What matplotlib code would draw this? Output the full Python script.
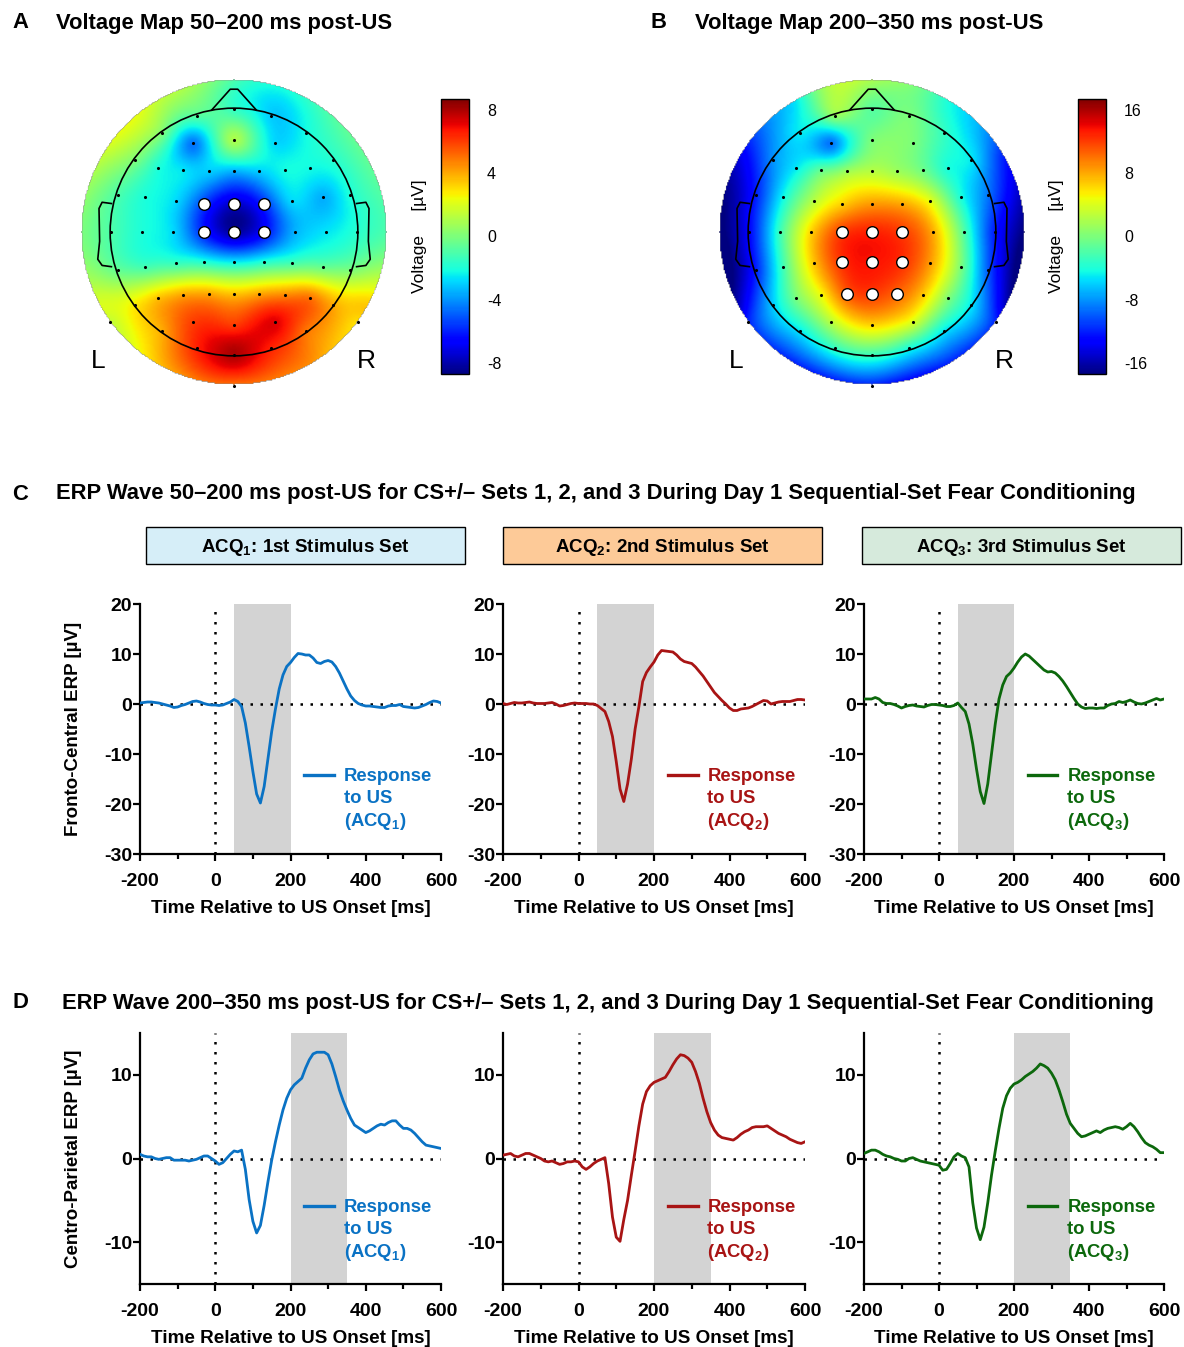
import numpy as np
import matplotlib.pyplot as plt
from matplotlib.patches import Rectangle, Circle
from matplotlib.lines import Line2D

plt.rcParams['font.family'] = ['Liberation Sans', 'DejaVu Sans']
plt.rcParams['mathtext.default'] = 'regular'
plt.rcParams['axes.unicode_minus'] = False

W, H = 1184, 1347
fig = plt.figure(figsize=(W / 100, H / 100), dpi=100)


def fx(px):
    return px / W


def fy(py):
    return 1 - py / H


# ---------------- topographic data ----------------
chan_names = ['Fpz', 'Fp1', 'Fp2',
              'AF7', 'AF3', 'AFz', 'AF4', 'AF8',
              'F7', 'F5', 'F3', 'F1', 'Fz', 'F2', 'F4', 'F6', 'F8',
              'FT7', 'FC5', 'FC3', 'FC1', 'FCz', 'FC2', 'FC4', 'FC6', 'FT8',
              'T7', 'C5', 'C3', 'C1', 'Cz', 'C2', 'C4', 'C6', 'T8',
              'TP7', 'CP5', 'CP3', 'CP1', 'CPz', 'CP2', 'CP4', 'CP6', 'TP8',
              'P7', 'P5', 'P3', 'P1', 'Pz', 'P2', 'P4', 'P6', 'P8',
              'P9', 'P10',
              'PO7', 'PO3', 'POz', 'PO4', 'PO8',
              'O1', 'Oz', 'O2', 'Iz']
chan_x = [0, -0.30, 0.30,
          -0.58, -0.33, 0, 0.33, 0.58,
          -0.80, -0.61, -0.41, -0.20, 0, 0.20, 0.41, 0.61, 0.80,
          -0.94, -0.72, -0.47, -0.24, 0, 0.24, 0.47, 0.72, 0.94,
          -0.99, -0.74, -0.49, -0.245, 0, 0.245, 0.49, 0.74, 0.99,
          -0.94, -0.72, -0.47, -0.24, 0, 0.24, 0.47, 0.72, 0.94,
          -0.80, -0.61, -0.41, -0.20, 0, 0.20, 0.41, 0.61, 0.80,
          -1.00, 1.00,
          -0.58, -0.33, 0, 0.33, 0.58,
          -0.30, 0, 0.30, 0]
chan_y = [0.99, 0.94, 0.94,
          0.80, 0.72, 0.745, 0.72, 0.80,
          0.58, 0.52, 0.50, 0.49, 0.49, 0.49, 0.50, 0.52, 0.58,
          0.30, 0.28, 0.25, 0.23, 0.23, 0.23, 0.25, 0.28, 0.30,
          0, 0, 0, 0, 0, 0, 0, 0, 0,
          -0.31, -0.28, -0.25, -0.245, -0.245, -0.245, -0.25, -0.28, -0.31,
          -0.59, -0.53, -0.505, -0.50, -0.50, -0.50, -0.505, -0.53, -0.59,
          -0.73, -0.73,
          -0.80, -0.73, -0.75, -0.73, -0.80,
          -0.94, -0.99, -0.94, -1.24]
volt_a = [-1.5, -0.8, -3.0,
          0.0, -4.5, 1.0, -2.8, -2.2,
          0.0, -2.0, -2.6, -3.0, -3.5, -3.0, -2.2, -2.2, -1.8,
          -1.0, -2.0, -2.8, -5.5, -7.5, -5.8, -2.8, -3.5, -2.0,
          -1.0, -2.0, -2.8, -6.0, -8.2, -6.5, -3.5, -2.6, -1.8,
          -0.5, -1.2, -1.5, -1.8, -2.4, -1.8, -1.2, -0.5, 0.0,
          2.8, 3.5, 4.0, 4.0, 3.5, 4.0, 4.5, 5.0, 4.0,
          1.5, 3.0,
          4.0, 6.0, 6.0, 7.2, 5.0,
          6.5, 8.0, 6.5, 5.0]
volt_b = [-1.5, 1.0, 0.0,
          -5.0, -9.0, 0.0, 0.0, -3.0,
          -8.0, -5.0, -1.0, 1.5, 2.5, 1.5, -0.5, -4.0, -5.0,
          -12.0, -4.5, 2.5, 6.5, 8.5, 8.0, 4.5, -4.0, -9.0,
          -13.0, -2.5, 6.5, 12.0, 13.0, 12.0, 8.0, -1.5, -12.0,
          -12.0, -2.5, 7.0, 12.5, 13.5, 12.5, 8.5, 0.0, -10.0,
          -6.0, 0.0, 5.0, 11.0, 12.0, 10.5, 7.0, 0.5, -5.0,
          -12.0, -12.0,
          -5.0, 2.5, 6.5, 4.0, -5.0,
          -3.0, -2.5, -4.0, -12.0]
# colours read along the outer edge of each map (degrees, 0 = right, 90 = nose)
rim_angle = [0, 30, 60, 90, 120, 150, 180, 210, 240, 300, 330]
rim_a = [-1.0, -0.5, -1.5, -1.0, 1.5, 1.5, 0.0, 2.0, 3.5, 4.5, 3.5]
rim_b = [-17.5, -12.0, -4.0, 2.0, -5.0, -14.0, -18.0, -15.0, -12.0, -12.0, -15.0]
roi_a = ['FC1', 'FCz', 'FC2', 'C1', 'Cz', 'C2']
roi_b = ['C1', 'Cz', 'C2', 'CP1', 'CPz', 'CP2', 'P1', 'Pz', 'P2']

# ---------------- ERP data (10 ms steps, -200..600 ms) ----------------
times = np.arange(-200, 601, 10)
fc_acq1 = [0.2, 0.3, 0.4, 0.4, 0.3, 0.2, 0.0, -0.2, -0.4, -0.7,
           -0.6, -0.3, -0.1, 0.2, 0.5, 0.6, 0.4, 0.1, -0.1, -0.2,
           -0.2, -0.3, -0.2, 0.1, 0.4, 0.9, 0.5, -0.5, -3.8, -8.5,
           -13.5, -18.0, -19.8, -16.5, -11.0, -5.5, -1.0, 3.0, 5.8, 7.5,
           8.3, 9.3, 10.1, 10.0, 9.8, 9.8, 9.2, 8.3, 8.1, 8.5,
           8.7, 8.4, 7.5, 6.2, 4.6, 3.0, 1.6, 0.7, 0.1, -0.2,
           -0.4, -0.4, -0.5, -0.6, -0.7, -0.7, -0.4, -0.3, -0.3, -0.1,
           -0.5, -0.6, -0.7, -0.8, -0.7, -0.4, -0.1, 0.3, 0.6, 0.5,
           0.2]
fc_acq2 = [0.1, -0.1, 0.1, 0.3, 0.2, 0.2, 0.3, 0.4, 0.2, 0.1,
           0.1, 0.1, 0.2, 0.3, 0.0, -0.4, -0.3, -0.1, 0.1, 0.2,
           0.1, 0.1, 0.1, 0.0, 0.0, -0.3, -0.9, -1.5, -3.5, -6.5,
           -11.5, -17.0, -19.5, -16.0, -11.0, -5.0, -0.5, 4.5, 6.3, 7.4,
           8.4, 9.8, 10.7, 10.6, 10.5, 10.4, 9.8, 9.0, 8.5, 8.3,
           8.1, 7.4, 6.5, 5.6, 4.5, 3.4, 2.3, 1.5, 0.7, 0.0,
           -0.8, -1.3, -1.3, -1.0, -0.9, -0.8, -0.5, -0.1, 0.3, 0.7,
           0.6, 0.0, 0.2, 0.4, 0.5, 0.5, 0.5, 0.7, 0.9, 0.9,
           0.8]
fc_acq3 = [1.0, 1.0, 1.0, 1.3, 1.0, 0.3, 0.1, 0.1, -0.1, -0.4,
           -0.8, -0.5, -0.3, -0.2, -0.4, -0.5, -0.6, -0.3, -0.1, -0.1,
           -0.2, -0.3, -0.5, -0.5, -0.3, 0.2, -0.7, -1.5, -4.0, -8.0,
           -13.0, -17.5, -19.9, -16.0, -10.0, -4.0, 1.0, 3.8, 5.5, 6.2,
           7.2, 8.4, 9.4, 10.0, 9.6, 8.9, 8.2, 7.5, 6.8, 6.4,
           6.5, 6.2, 5.5, 4.6, 3.5, 2.3, 1.1, 0.0, -0.6, -0.9,
           -0.8, -0.8, -0.9, -0.8, -0.8, -0.3, 0.0, 0.1, 0.5, 0.3,
           0.5, 0.8, 0.4, 0.1, 0.0, 0.2, 0.5, 0.8, 1.1, 0.8,
           1.0]
cp_acq1 = [0.5, 0.3, 0.2, 0.2, 0.0, -0.1, 0.0, 0.1, 0.1, -0.2,
           -0.2, -0.2, -0.2, -0.3, -0.2, -0.1, 0.1, 0.3, 0.3, 0.0,
           -0.3, -0.7, -0.5, 0.0, 0.5, 0.9, 0.8, 1.0, -1.3, -4.9,
           -7.5, -8.9, -8.0, -5.6, -2.8, -0.2, 2.0, 4.0, 5.8, 7.2,
           8.2, 8.8, 9.2, 9.6, 10.8, 11.8, 12.5, 12.7, 12.7, 12.7,
           12.4, 11.3, 9.8, 8.2, 6.9, 5.8, 4.8, 4.0, 3.7, 3.4,
           3.1, 3.3, 3.6, 3.9, 4.1, 4.0, 4.3, 4.5, 4.5, 4.0,
           3.6, 3.6, 3.4, 3.0, 2.5, 2.0, 1.6, 1.5, 1.4, 1.3,
           1.2]
cp_acq2 = [0.4, 0.5, 0.6, 0.3, 0.2, 0.4, 0.6, 0.6, 0.4, 0.2,
           0.0, -0.3, -0.4, -0.3, -0.5, -0.7, -0.6, -0.4, -0.4, -0.3,
           -0.4, -1.0, -1.3, -1.0, -0.6, -0.3, -0.1, 0.1, -3.0, -7.0,
           -9.4, -9.9, -7.3, -5.0, -2.0, 0.9, 3.9, 6.5, 8.0, 8.7,
           9.1, 9.3, 9.5, 9.7, 10.4, 11.2, 11.9, 12.4, 12.3, 12.0,
           11.5, 10.4, 9.0, 7.2, 5.6, 4.3, 3.4, 2.8, 2.5, 2.4,
           2.3, 2.2, 2.5, 2.9, 3.2, 3.4, 3.7, 3.8, 3.8, 3.8,
           3.9, 3.6, 3.3, 3.0, 2.8, 2.6, 2.3, 2.1, 1.9, 1.8,
           2.0]
cp_acq3 = [0.6, 0.8, 1.0, 1.0, 0.8, 0.5, 0.3, 0.2, 0.0, -0.1,
           -0.3, -0.3, 0.0, 0.1, -0.1, -0.3, -0.4, -0.5, -0.6, -0.7,
           -0.8, -1.4, -1.3, -0.6, 0.2, 0.6, 0.3, 0.1, -1.0, -5.3,
           -8.3, -9.7, -8.2, -5.3, -2.0, 0.9, 3.6, 6.0, 7.5, 8.4,
           8.9, 9.1, 9.4, 9.8, 10.1, 10.4, 10.8, 11.3, 11.1, 10.8,
           10.2, 9.4, 8.2, 6.8, 5.3, 4.2, 3.6, 3.0, 2.6, 2.7,
           2.9, 3.1, 3.3, 3.1, 3.4, 3.6, 3.7, 3.8, 3.7, 3.5,
           3.8, 4.2, 3.8, 3.2, 2.5, 1.9, 1.6, 1.4, 1.1, 0.7,
           0.7]

cond_labels = ['ACQ$_1$: 1st Stimulus Set', 'ACQ$_2$: 2nd Stimulus Set', 'ACQ$_3$: 3rd Stimulus Set']
legend_rest = ['to US\n(ACQ$_1$)', 'to US\n(ACQ$_2$)', 'to US\n(ACQ$_3$)']
cond_colors = ['#0a72c4', '#a81414', '#0c680c']
header_colors = ['#d6eef8', '#fdca98', '#d6eadc']


# ---------------- topomaps ----------------
def v4_interp(xe, ye, ve, xg, yg):
    d = np.hypot(xe[:, None] - xe[None, :], ye[:, None] - ye[None, :])
    dd = np.where(d > 0, d, 1.0)
    G = np.where(d > 0, d ** 2 * (np.log(dd) - 1), 0.0)
    w = np.linalg.solve(G, ve)
    dg = np.hypot(xg.ravel()[:, None] - xe[None, :], yg.ravel()[:, None] - ye[None, :])
    ddg = np.where(dg > 0, dg, 1.0)
    Gg = np.where(dg > 0, dg ** 2 * (np.log(ddg) - 1), 0.0)
    return (Gg @ w).reshape(xg.shape)


def topomap(cx, cy, values, rim, roi, vlim, ticks, cbar_left):
    R = 1.235
    ax = fig.add_axes([fx(cx - 161), fy(cy + 161), fx(322), 322 / H])
    xe = np.array(chan_x)
    ye = np.array(chan_y)
    ang = np.deg2rad(rim_angle)
    xs = np.concatenate([xe, R * np.cos(ang)])
    ys = np.concatenate([ye, R * np.sin(ang)])
    vs = np.concatenate([values, rim])
    g = np.linspace(-R, R, 261)
    xg, yg = np.meshgrid(g, g)
    zg = v4_interp(xs, ys, vs, xg, yg)
    zg = np.ma.masked_where(np.hypot(xg, yg) > R, zg)
    im = ax.imshow(zg, extent=(-R, R, -R, R), origin='lower', cmap='jet',
                   vmin=-vlim, vmax=vlim, interpolation='bilinear')
    ax.add_patch(Circle((0, 0), 1.0, fill=False, lw=1.2, color='k'))
    ax.plot([-0.18, -0.03, 0.03, 0.18], [0.985, 1.153, 1.153, 0.985], color='k', lw=1.2)
    ear_x = np.array([0.99, 1.065, 1.09, 1.085, 1.10, 1.065, 0.99])
    ear_y = np.array([0.23, 0.24, 0.19, -0.075, -0.22, -0.27, -0.28])
    ax.plot(-ear_x, ear_y, color='k', lw=1.2)
    ax.plot(ear_x, ear_y, color='k', lw=1.2)
    ax.scatter(xe, ye, s=5, c='k', zorder=3, linewidths=0)
    idx = [chan_names.index(n) for n in roi]
    ax.scatter(xe[idx], ye[idx], s=70, facecolor='white', edgecolor='k', linewidths=1.0, zorder=4)
    ax.text(-1.10, -1.04, 'L', fontsize=19, ha='center', va='center')
    ax.text(1.07, -1.04, 'R', fontsize=19, ha='center', va='center')
    ax.set_xlim(-1.3, 1.3)
    ax.set_ylim(-1.3, 1.3)
    ax.set_aspect('equal')
    ax.axis('off')
    cax = fig.add_axes([fx(cbar_left), fy(374), fx(28), 275 / H])
    cb = fig.colorbar(im, cax=cax, ticks=ticks)
    cb.outline.set_linewidth(1.0)
    cax.tick_params(length=0, labelsize=11.5, pad=13)
    cax.set_ylabel('Voltage     [µV]', fontsize=12.5, labelpad=10)
    cax.yaxis.set_label_position('left')


topomap(234, 232, volt_a, rim_a, roi_a, 8.7, [-8, -4, 0, 4, 8], 441)
topomap(872, 232, volt_b, rim_b, roi_b, 17.4, [-16, -8, 0, 8, 16], 1078)

ttl = dict(fontsize=15.8, fontweight='bold', va='center')
fig.text(fx(12), fy(23), 'A', **ttl)
fig.text(fx(56), fy(23), 'Voltage Map 50–200 ms post-US', **ttl)
fig.text(fx(651), fy(23), 'B', **ttl)
fig.text(fx(695), fy(23), 'Voltage Map 200–350 ms post-US', **ttl)
fig.text(fx(12), fy(494), 'C', **ttl)
fig.text(fx(56), fy(494), 'ERP Wave 50–200 ms post-US for CS+/– Sets 1, 2, and 3 During Day 1 Sequential-Set Fear Conditioning', **ttl)
fig.text(fx(12), fy(1003), 'D', **ttl)
fig.text(fx(62), fy(1003), 'ERP Wave 200–350 ms post-US for CS+/– Sets 1, 2, and 3 During Day 1 Sequential-Set Fear Conditioning', **ttl)

# condition header boxes
box_lefts = [146, 503, 862]
for left, lab, col in zip(box_lefts, cond_labels, header_colors):
    fig.add_artist(Rectangle((fx(left), fy(564)), fx(319), 37 / H, transform=fig.transFigure,
                             facecolor=col, edgecolor='k', lw=1.0))
    fig.text(fx(left + 159.5), fy(547), lab, ha='center', va='center', fontsize=13.5, fontweight='bold')


# ---------------- ERP panels ----------------
def erp_panel(left, right, top, bottom, y, color, rest, shade, ylim, yticks, ylabel, leg_y):
    ax = fig.add_axes([fx(left), fy(bottom), fx(right - left), (bottom - top) / H])
    ax.axvspan(shade[0], shade[1], color='#d3d3d3', lw=0, zorder=0)
    ax.axhline(0, color='k', lw=1.8, ls=(0, (1, 3)), zorder=1)
    ax.axvline(0, color='k', lw=1.8, ls=(0, (1, 3)), zorder=1)
    ax.plot(times, y, color=color, lw=2.0, zorder=3)
    ax.set_xlim(-200, 600)
    ax.set_ylim(*ylim)
    ax.set_xticks([-200, 0, 200, 400, 600])
    ax.set_xticks([-100, 100, 300, 500], minor=True)
    ax.set_yticks(yticks)
    for s in ['top', 'right']:
        ax.spines[s].set_visible(False)
    for s in ['left', 'bottom']:
        ax.spines[s].set_linewidth(1.6)
    ax.tick_params(which='major', width=1.6, length=5, labelsize=14)
    ax.tick_params(which='minor', width=1.6, length=3.5)
    ax.tick_params(axis='x', which='major', pad=8.5)
    ax.tick_params(axis='y', which='major', pad=0.5)
    for t in ax.get_xticklabels() + ax.get_yticklabels():
        t.set_fontweight('bold')
    ax.set_xlabel('Time Relative to US Onset [ms]', fontsize=13.6, fontweight='bold', labelpad=7.5)
    if ylabel:
        ax.set_ylabel(ylabel, fontsize=13.5, fontweight='bold', labelpad=16)
    h = Line2D([], [], color=color, lw=2.4)
    leg = ax.legend([h], ['Response'], loc='upper left', bbox_to_anchor=(0.545, leg_y), frameon=False,
                    handlelength=1.62, handletextpad=0.54, borderaxespad=0, borderpad=0,
                    prop={'weight': 'bold', 'size': 13.3}, labelcolor=color)
    ax.annotate(rest, xy=(0, 0), xycoords=leg.get_texts()[0], xytext=(0, -3.5), textcoords='offset points',
                ha='left', va='top', color=color, fontsize=13.3, fontweight='bold',
                linespacing=1.28, zorder=6)
    return ax


c_series = [fc_acq1, fc_acq2, fc_acq3]
d_series = [cp_acq1, cp_acq2, cp_acq3]
lefts = [140, 503, 864]
rights = [441, 805, 1164]
for i in range(3):
    erp_panel(lefts[i], rights[i], 604, 854, c_series[i], cond_colors[i], legend_rest[i],
              (50, 200), (-30, 20), [-30, -20, -10, 0, 10, 20],
              'Fronto-Central ERP [µV]' if i == 0 else None, 0.344)
    erp_panel(lefts[i], rights[i], 1033, 1284, d_series[i], cond_colors[i], legend_rest[i],
              (200, 350), (-15, 15), [-10, 0, 10],
              'Centro-Parietal ERP [µV]' if i == 0 else None, 0.338)

fig.canvas.draw()
fig.savefig('out.png', dpi=100)
